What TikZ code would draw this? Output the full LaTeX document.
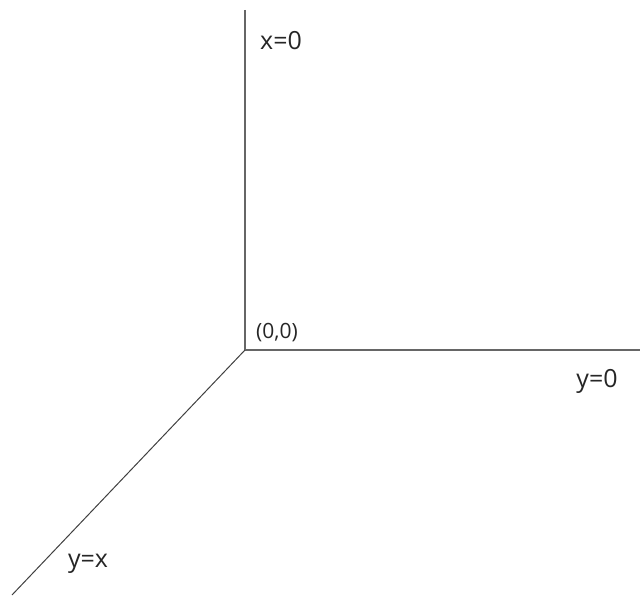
\documentclass[tikz,border=0pt]{standalone}
\usepackage{fontspec}
\setmainfont{Open Sans}
\begin{document}
\begin{tikzpicture}[x=1pt,y=-1pt,
  axis/.style={draw=black!60, line width=1.3pt},
  lbl/.style={inner sep=0pt, font=\fontsize{25}{30}\selectfont, text=black!85},
  smalllbl/.style={inner sep=0pt, font=\fontsize{21}{25}\selectfont, text=black!85}]
\useasboundingbox (0,0) rectangle (640,596);
\coordinate (O) at (245,350);
\coordinate (top) at (245,10);
\coordinate (right) at (640,350);
\coordinate (diag) at (12,595);
\draw[axis] (top) -- (O) -- (right);
\draw[axis, draw=black!75, line width=1pt] (O) -- (diag);
\node[lbl] (x0) at (281,41) {x=0};
\node[smalllbl] (origin) at (277,333) {(0,0)};
\node[lbl] (y0) at (597,381) {y=0};
\node[lbl] (yx) at (88,564) {y=x};
\end{tikzpicture}
\end{document}
